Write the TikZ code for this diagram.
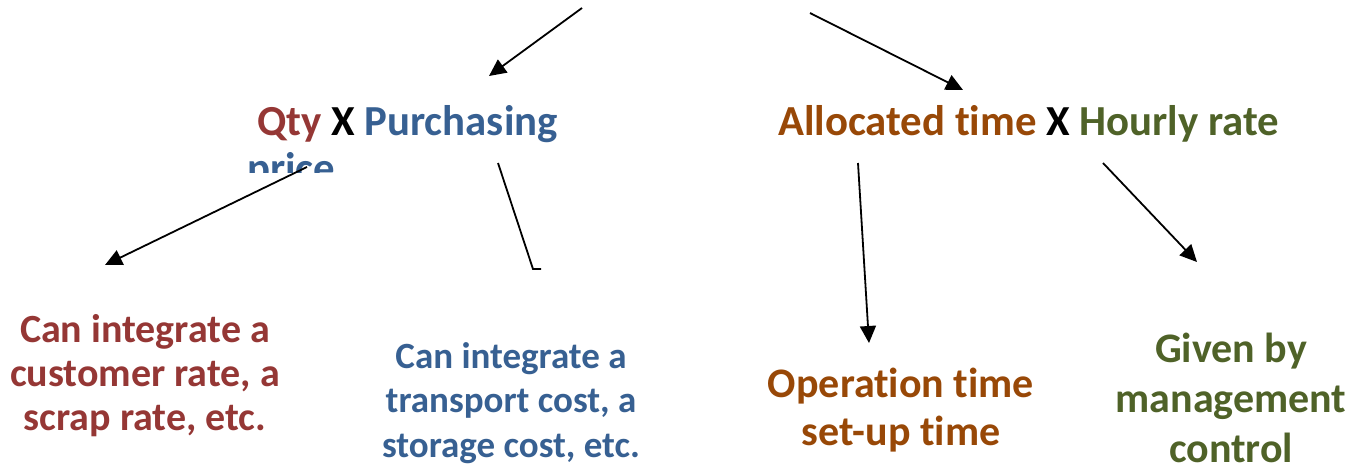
\documentclass[tikz,border=0pt]{standalone}
\usepackage{fontspec}
\setmainfont{Carlito}[RawFeature={-liga,-clig,-dlig}]
\usetikzlibrary{arrows.meta}
\definecolor{qtyred}{HTML}{953735}
\definecolor{priceblue}{HTML}{376092}
\definecolor{timeorange}{HTML}{984807}
\definecolor{rategreen}{HTML}{4F6228}
\tikzset{
  lbl/.style={inner sep=0pt, font=\bfseries, align=center},
  head/.style={font=\bfseries\fontsize{42.8}{51}\selectfont, inner sep=0pt, anchor=base west},
  link/.style={line width=1.8pt, -{Triangle[length=17pt,width=16pt]}},
  plain/.style={line width=1.8pt}
}
\begin{document}
\begin{tikzpicture}[x=1pt,y=-1pt]
\useasboundingbox (0,0) rectangle (1355,472);

% top row formulas
\node[head] (qty) at (257,135) {\textcolor{qtyred}{Qty} X \textcolor{priceblue}{Purchasing}};
\begin{scope}
  \clip (0,0) rectangle (1355,172);
  \node[head, text=priceblue] (price) at (247,182) {price};
\end{scope}
\node[head] (alloc) at (778,135) {\textcolor{timeorange}{Allocated time} X \textcolor{rategreen}{Hourly rate}};

% explanations (anchored on the baseline of the last line)
\node[lbl, text=qtyred, font=\bfseries\fontsize{40}{44}\selectfont, anchor=base] (cust) at (145,430)
  {Can integrate a\\customer rate, a\\scrap rate, etc.};
\node[lbl, text=priceblue, font=\bfseries\fontsize{37}{44.5}\selectfont, anchor=base] (trans) at (511,457)
  {Can integrate a\\transport cost, a\\storage cost, etc.};
\node[lbl, text=timeorange, font=\bfseries\fontsize{42}{48}\selectfont, anchor=base] (oper) at (901,445)
  {Operation time\\set-up time};
\node[lbl, text=rategreen, font=\bfseries\fontsize{42}{50}\selectfont, anchor=base] (given) at (1231,462)
  {Given by\\management\\control};

% connector ends
\coordinate (a1s) at (582,8);    \coordinate (a1e) at (489,76);
\coordinate (a2s) at (810,13);   \coordinate (a2e) at (963,90);
\coordinate (a3s) at (307,167);  \coordinate (a3e) at (105,265);
\coordinate (a4s) at (498,163);  \coordinate (a4e) at (533,269);
\coordinate (a4t) at (541,269);
\coordinate (a5s) at (858,163);  \coordinate (a5e) at (869,343);
\coordinate (a6s) at (1103,163); \coordinate (a6e) at (1197,262);

\draw[link] (a1s) -- (a1e);
\draw[link] (a2s) -- (a2e);
\draw[link] (a3s) -- (a3e);
\draw[plain] (a4s) -- (a4e) -- (a4t);
\draw[link] (a5s) -- (a5e);
\draw[link] (a6s) -- (a6e);
\end{tikzpicture}
\end{document}
